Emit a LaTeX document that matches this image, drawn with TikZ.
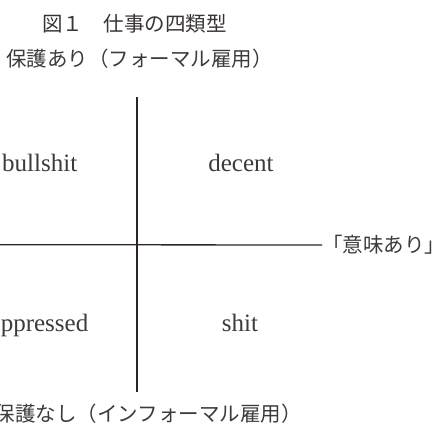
\documentclass[tikz,border=0pt]{standalone}
\usepackage{fontspec}
\setmainfont{Liberation Serif}
\newfontfamily\jp{Noto Sans CJK JP}
\definecolor{txt}{HTML}{3E3A3A}
\definecolor{axis}{HTML}{2E2424}
\tikzset{
  jplabel/.style={inner sep=0pt, text=txt, font=\jp\fontsize{20.5}{22}\selectfont},
  enlabel/.style={inner sep=0pt, text=txt, font=\fontsize{25}{28}\selectfont},
  axisline/.style={draw=axis, line width=1.3pt}
}
\begin{document}
\begin{tikzpicture}[x=1pt,y=1pt]
\useasboundingbox (0,0) rectangle (437,-430);
\clip (0,0) rectangle (437,-430);
\node[jplabel, anchor=west, text=txt!90!black] (title) at (42,-23.5) {図１　仕事の四類型};
\node[jplabel, anchor=west] (top) at (6,-59) {保護あり（フォーマル雇用）};
\node[jplabel, anchor=east] (bottom) at (302,-414) {保護なし（インフォーマル雇用）};
\node[jplabel, anchor=west] (meaning) at (322,-245) {「意味あり」};
\node[enlabel, anchor=base west] (bullshit) at (2,-171.5) {bullshit};
\node[enlabel, anchor=base] (decent) at (241,-171.5) {decent};
\node[enlabel, anchor=base east] (oppressed) at (88.5,-331.5) {oppressed};
\node[enlabel, anchor=base] (shit) at (240,-331.5) {shit};
\coordinate (vtop) at (137,-97);
\coordinate (vbot) at (137,-392);
\coordinate (hleft) at (-5,-244.7);
\draw[axisline] (vtop) -- (vbot);
\draw[axisline] (hleft) -- (meaning.west);
\end{tikzpicture}
\end{document}
